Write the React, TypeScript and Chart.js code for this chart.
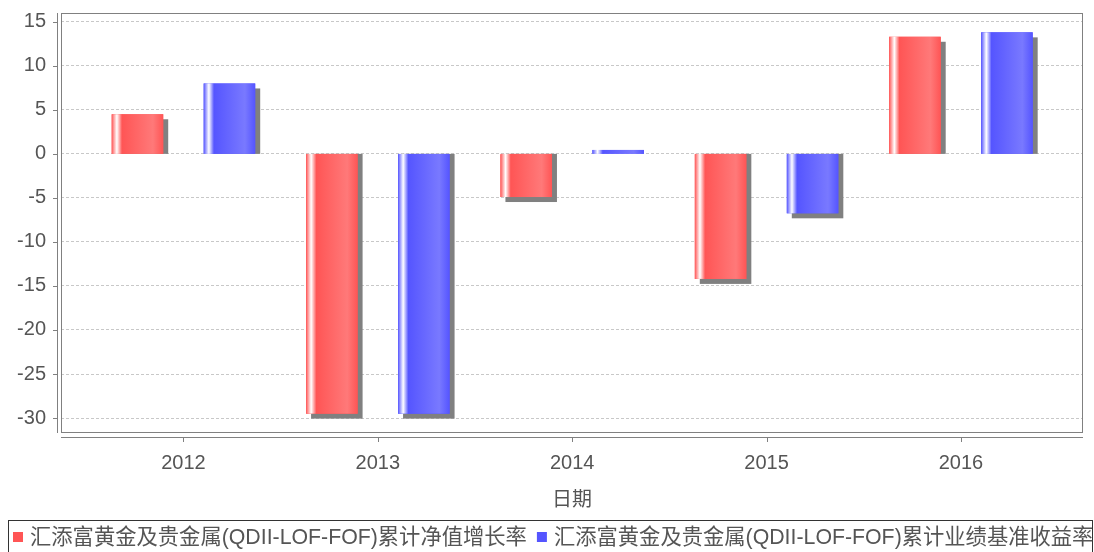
import React, { useEffect, useRef } from 'react';
import { Chart, registerables } from 'chart.js';

Chart.register(...registerables);

const years = ['2012', '2013', '2014', '2015', '2016'];
const navGrowth = [4.5, -29.5, -4.9, -14.2, 13.3];
const benchmarkReturn = [8.0, -29.5, 0.45, -6.75, 13.8];
const yTicks = [-30, -25, -20, -15, -10, -5, 0, 5, 10, 15];
const seriesNames = [
  '汇添富黄金及贵金属(QDII-LOF-FOF)累计净值增长率',
  '汇添富黄金及贵金属(QDII-LOF-FOF)累计业绩基准收益率',
];
const xTitle = '日期';

const baseColors = ['#ff5555', '#5555ff'];
const lightColors = ['#ff7979', '#7979ff'];
const FONT = '"Liberation Sans", Arial, "Noto Sans CJK SC", sans-serif';
const CJK_FONT = '"Liberation Sans", "Noto Sans CJK SC", sans-serif';

const framePlugin = {
  id: 'frameAndBars',
  beforeDatasetsDraw(chart: any) {
    const { ctx, chartArea } = chart;
    const { left, right, top, bottom } = chartArea;
    const ys = chart.scales.y;
    const xs = chart.scales.x;
    ctx.save();
    ctx.strokeStyle = '#808080';
    ctx.lineWidth = 1;
    ctx.strokeRect(left + 0.5, top + 0.5, right - left - 1, bottom - top - 1);
    ctx.beginPath();
    ctx.moveTo(left - 3.5, top);
    ctx.lineTo(left - 3.5, bottom);
    yTicks.forEach((v) => {
      const py = Math.round(ys.getPixelForValue(v)) + 0.5;
      ctx.moveTo(left - 8, py);
      ctx.lineTo(left - 3.5, py);
    });
    ctx.moveTo(left, bottom + 4.5);
    ctx.lineTo(right, bottom + 4.5);
    years.forEach((_, i) => {
      const px = Math.round(xs.getPixelForValue(i)) + 0.5;
      ctx.moveTo(px, bottom + 4.5);
      ctx.lineTo(px, bottom + 9);
    });
    ctx.stroke();

    const base = ys.getPixelForValue(0);
    ctx.fillStyle = '#808080';
    chart.data.datasets.forEach((_: any, di: number) => {
      const meta = chart.getDatasetMeta(di);
      meta.data.forEach((el: any) => {
        const { x, y, width } = el.getProps(['x', 'y', 'width'], true);
        const l = x - width / 2 + 5;
        if (y < base) {
          const h = base - y - 5;
          if (h > 0) ctx.fillRect(l, y + 5, width, h);
        } else {
          ctx.fillRect(l, base, width, y - base + 5);
        }
      });
    });
    ctx.restore();
  },
  afterDatasetsDraw(chart: any) {
    const { ctx } = chart;
    const base = chart.scales.y.getPixelForValue(0);
    ctx.save();
    chart.data.datasets.forEach((_: any, di: number) => {
      const meta = chart.getDatasetMeta(di);
      meta.data.forEach((el: any) => {
        const { x, y, width } = el.getProps(['x', 'y', 'width'], true);
        const l = x - width / 2;
        const g = ctx.createLinearGradient(l, 0, l + width, 0);
        g.addColorStop(0, baseColors[di]);
        g.addColorStop(0.1, '#ffffff');
        g.addColorStop(0.2, baseColors[di]);
        g.addColorStop(0.8, lightColors[di]);
        g.addColorStop(1, baseColors[di]);
        ctx.fillStyle = g;
        const t = Math.min(y, base);
        const h = Math.abs(base - y);
        ctx.fillRect(l, t, width, h);
      });
    });
    ctx.restore();
  },
  afterDraw(chart: any) {
    const { ctx } = chart;
    ctx.save();
    ctx.strokeStyle = '#333333';
    ctx.lineWidth = 1;
    ctx.strokeRect(8.5, 520.5, chart.width - 10, 60);
    ctx.font = `21.3px ${CJK_FONT}`;
    ctx.textBaseline = 'middle';
    ctx.textAlign = 'left';
    const cy = 537;
    let x = 13;
    seriesNames.forEach((name, i) => {
      ctx.fillStyle = baseColors[i];
      ctx.fillRect(x, cy - 5, 10, 10);
      ctx.fillStyle = '#555555';
      ctx.fillText(name, x + 17, cy + 1);
      x = x + 17 + ctx.measureText(name).width + 10;
    });
    ctx.restore();
  },
};

export default function App() {
  const ref = useRef<HTMLCanvasElement | null>(null);

  useEffect(() => {
    if (!ref.current) return;
    const chart = new Chart(ref.current, {
      type: 'bar',
      data: {
        datasets: [
          {
            label: seriesNames[0],
            data: years.map((_, i) => ({ x: i, y: navGrowth[i] })),
            backgroundColor: baseColors[0],
            borderWidth: 0,
            categoryPercentage: 0.9465,
            barPercentage: 0.56,
          },
          {
            label: seriesNames[1],
            data: years.map((_, i) => ({ x: i, y: benchmarkReturn[i] })),
            backgroundColor: baseColors[1],
            borderWidth: 0,
            categoryPercentage: 0.9465,
            barPercentage: 0.56,
          },
        ],
      },
      options: {
        animation: false,
        responsive: false,
        devicePixelRatio: 1,
        layout: { padding: { top: 13, right: 11, left: 0, bottom: 36 } },
        plugins: {
          tooltip: { enabled: false },
          title: { display: false },
          legend: { display: false },
        },
        scales: {
          x: {
            type: 'linear',
            min: -0.63,
            max: 4.628,
            offset: false,
            grid: { display: false, drawTicks: false },
            border: { display: false },
            afterBuildTicks: (scale: any) => {
              scale.ticks = years.map((_, i) => ({ value: i }));
            },
            afterFit: (scale: any) => {
              scale.height = 83;
              scale.paddingLeft = 0;
              scale.paddingRight = 0;
            },
            ticks: {
              autoSkip: false,
              maxRotation: 0,
              padding: 18,
              color: '#555555',
              font: { size: 20, family: FONT },
              callback: (v: any) => years[v] ?? '',
            },
            title: {
              display: true,
              text: xTitle,
              color: '#555555',
              font: { size: 20, family: CJK_FONT },
              padding: { top: 4, bottom: 4 },
            },
          },
          y: {
            min: -31.7,
            max: 16.0,
            grid: { color: '#c8c8c8', drawTicks: false, lineWidth: 1 },
            border: { display: false, dash: [3, 2] },
            afterBuildTicks: (scale: any) => {
              scale.ticks = yTicks.map((v) => ({ value: v }));
            },
            afterFit: (scale: any) => {
              scale.width = 61;
              scale.paddingTop = 0;
              scale.paddingBottom = 0;
            },
            ticks: {
              padding: 15,
              color: '#555555',
              font: { size: 20, family: FONT },
            },
          },
        },
      } as any,
      plugins: [framePlugin],
    });
    return () => chart.destroy();
  }, []);

  return (
    <div
      style={{
        position: 'fixed',
        left: 0,
        top: 0,
        width: 1094,
        height: 552,
        overflow: 'hidden',
        background: '#ffffff',
      }}
    >
      <canvas ref={ref} width={1094} height={552} style={{ display: 'block' }} />
    </div>
  );
}
